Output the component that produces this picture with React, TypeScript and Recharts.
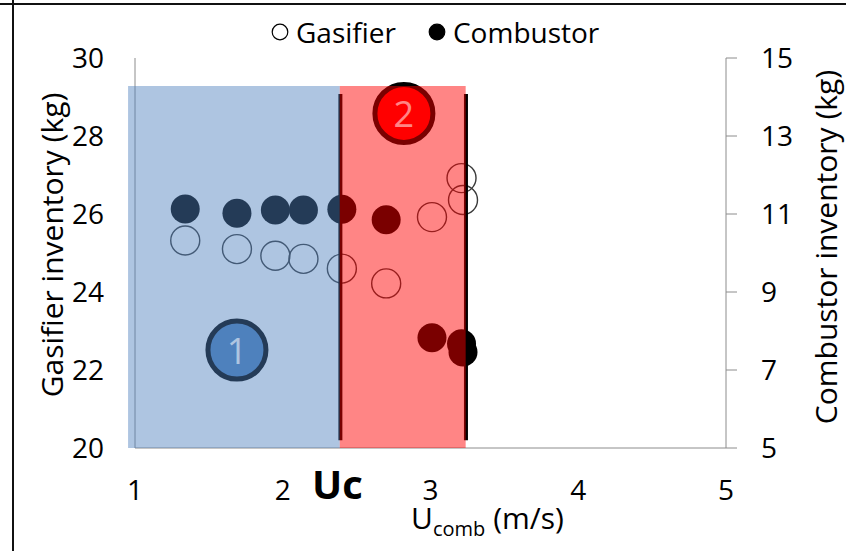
import React from 'react';
import {
  ComposedChart,
  Scatter,
  XAxis,
  YAxis,
  ReferenceArea,
  ReferenceLine,
  Legend,
} from 'recharts';

// Combustor gas velocity (m/s) for each run
const uComb = [1.34, 1.69, 1.95, 2.14, 2.4, 2.7, 3.01, 3.21, 3.22];
// Bed inventories (kg) measured for each run
const gasifierKg = [25.32, 25.1, 24.93, 24.85, 24.6, 24.22, 25.92, 26.92, 26.36];
const combustorKg = [11.13, 11.02, 11.1, 11.1, 11.12, 10.85, 7.83, 7.67, 7.46];

const xTicks = [1, 2, 3, 4, 5];
const gasifierTicks = [20, 22, 24, 26, 28, 30];
const combustorTicks = [5, 7, 9, 11, 13, 15];

// Operating regimes: band edges along U_comb and the band height (gasifier scale)
const regimeEdges = [0.953, 2.386, 3.238];
const regimeTop = 29.28;
const uc = 2.39;
const regimeEnd = 3.24;
const boundarySpan = [20.2, 29.08];

const regimeBadges = [
  { x: 1.69, y: 22.51, label: '1', fill: '#4F81BD' },
  { x: 2.82, y: 28.58, label: '2', fill: '#FF0000' },
];

const gasifierData = uComb.map((x, i) => ({ x, y: gasifierKg[i] }));
const combustorData = uComb.map((x, i) => ({ x, y: combustorKg[i] }));

const FONT = "'Open Sans', sans-serif";
const AXIS_GREY = '#8c8c8c';
const TICK_STYLE = { fill: '#000', fontSize: 28, fontFamily: FONT };

const HollowDot = (p: any) => (
  <circle cx={p.cx} cy={p.cy} r={14.5} fill="none" stroke="#3a3a3a" strokeWidth={1.4} />
);

const SolidDot = (p: any) => <circle cx={p.cx} cy={p.cy} r={14.5} fill="#000" />;

const Badge = (p: any) => (
  <g>
    <circle cx={p.cx} cy={p.cy} r={29} fill={p.payload.fill} stroke="#000" strokeWidth={5} />
    <text
      x={p.cx}
      y={p.cy}
      textAnchor="middle"
      dominantBaseline="central"
      fill="#fff"
      fontSize={36}
      fontFamily={FONT}
    >
      {p.payload.label}
    </text>
  </g>
);

// legend entries in display order, with their marker fill
const legendOrder = ['Gasifier', 'Combustor'];
const legendFill: Record<string, string> = { Gasifier: 'none', Combustor: '#000' };

const LegendContent = (props: any) => {
  const entries = props.payload || [];
  const items = legendOrder
    .map((name) => entries.find((e: any) => e.value === name))
    .filter(Boolean);
  return (
    <div
      style={{
        display: 'flex',
        alignItems: 'center',
        fontFamily: FONT,
        fontSize: 28,
        color: '#000',
        whiteSpace: 'nowrap',
      }}
    >
      {items.map((e: any, i: number) => (
        <div
          key={e.value}
          style={{ display: 'flex', alignItems: 'center', marginLeft: i === 0 ? 0 : 32 }}
        >
          <svg width={18} height={18} style={{ display: 'block' }}>
            <circle
              cx={9}
              cy={9}
              r={7.8}
              fill={legendFill[e.value]}
              stroke="#000"
              strokeWidth={1.2}
            />
          </svg>
          <span style={{ marginLeft: 7 }}>{e.value}</span>
        </div>
      ))}
    </div>
  );
};

const LeftTitle = (props: any) => {
  const vb = props.viewBox;
  const cx = vb.x + 16;
  const cy = vb.y + vb.height / 2 - 8;
  return (
    <text
      x={cx}
      y={cy}
      transform={`rotate(-90, ${cx}, ${cy})`}
      textAnchor="middle"
      dominantBaseline="central"
      fontSize={30}
      fontFamily={FONT}
      fill="#000"
    >
      Gasifier inventory (kg)
    </text>
  );
};

const RightTitle = (props: any) => {
  const vb = props.viewBox;
  const cx = vb.x + 99;
  const cy = vb.y + vb.height / 2 - 6;
  return (
    <text
      x={cx}
      y={cy}
      transform={`rotate(-90, ${cx}, ${cy})`}
      textAnchor="middle"
      dominantBaseline="central"
      fontSize={30}
      fontFamily={FONT}
      fill="#000"
    >
      Combustor inventory (kg)
    </text>
  );
};

const BottomTitle = (props: any) => {
  const vb = props.viewBox;
  return (
    <text
      x={vb.x + vb.width / 2 + 57}
      y={vb.y + 81}
      textAnchor="middle"
      fontSize={30}
      fontFamily={FONT}
      fill="#000"
    >
      <tspan>U</tspan>
      <tspan fontSize={20} dy={7}>
        comb
      </tspan>
      <tspan dy={-7}> (m/s)</tspan>
    </text>
  );
};

const UcLabel = (props: any) => {
  const vb = props.viewBox;
  return (
    <text
      x={vb.x - 3}
      y={vb.y + vb.height + 51}
      textAnchor="middle"
      fontSize={40}
      fontWeight="bold"
      fontFamily={FONT}
      fill="#000"
    >
      Uc
    </text>
  );
};

export default function App() {
  return (
    <div style={{ position: 'relative', width: 846, height: 551, background: '#fff' }}>
      <style>{'body{margin:0}'}</style>
      <ComposedChart
        width={846}
        height={551}
        margin={{ top: 58, right: 20, bottom: 43, left: 35 }}
      >
        <XAxis
          dataKey="x"
          type="number"
          domain={[1, 5]}
          ticks={xTicks}
          allowDataOverflow
          height={60}
          stroke={AXIS_GREY}
          tickLine={false}
          tickSize={0}
          tickMargin={32}
          tick={TICK_STYLE}
          label={BottomTitle}
        />
        <YAxis
          yAxisId="left"
          dataKey="y"
          type="number"
          domain={[20, 30]}
          ticks={gasifierTicks}
          allowDataOverflow
          width={100}
          stroke={AXIS_GREY}
          tickLine={false}
          tickSize={0}
          tickMargin={31}
          tick={TICK_STYLE}
          label={LeftTitle}
        />
        <YAxis
          yAxisId="right"
          orientation="right"
          dataKey="y"
          type="number"
          domain={[5, 15]}
          ticks={combustorTicks}
          allowDataOverflow
          width={100}
          stroke={AXIS_GREY}
          tickSize={11}
          tickMargin={24}
          tick={TICK_STYLE}
          label={RightTitle}
        />
        <Legend
          layout="horizontal"
          verticalAlign="middle"
          align="center"
          wrapperStyle={{ top: 13, left: 271, width: 'auto' }}
          content={LegendContent}
        />

        <Scatter
          yAxisId="left"
          data={regimeBadges}
          dataKey="y"
          legendType="none"
          shape={Badge}
          isAnimationActive={false}
        />
        <Scatter
          name="Gasifier"
          yAxisId="left"
          data={gasifierData}
          dataKey="y"
          shape={HollowDot}
          isAnimationActive={false}
        />
        <Scatter
          name="Combustor"
          yAxisId="right"
          data={combustorData}
          dataKey="y"
          shape={SolidDot}
          isAnimationActive={false}
        />

        <ReferenceLine
          yAxisId="left"
          segment={[
            { x: uc, y: boundarySpan[0] },
            { x: uc, y: boundarySpan[1] },
          ]}
          stroke="#000"
          strokeWidth={4}
          zIndex={650}
        />
        <ReferenceLine
          yAxisId="left"
          segment={[
            { x: regimeEnd, y: boundarySpan[0] },
            { x: regimeEnd, y: boundarySpan[1] },
          ]}
          stroke="#000"
          strokeWidth={4}
          zIndex={650}
        />

        <ReferenceArea
          yAxisId="left"
          x1={regimeEdges[0]}
          x2={regimeEdges[1]}
          y1={20}
          y2={regimeTop}
          fill="#4F81BD"
          fillOpacity={0.46}
          stroke="none"
          ifOverflow="visible"
          zIndex={700}
        />
        <ReferenceArea
          yAxisId="left"
          x1={regimeEdges[1]}
          x2={regimeEdges[2]}
          y1={20}
          y2={regimeTop}
          fill="#FF0000"
          fillOpacity={0.48}
          stroke="none"
          ifOverflow="visible"
          zIndex={700}
        />

        <ReferenceLine
          yAxisId="left"
          x={uc}
          stroke="none"
          label={UcLabel}
        />
      </ComposedChart>
      <div style={{ position: 'absolute', left: 0, top: 3, width: 846, height: 2, background: '#111' }} />
      <div style={{ position: 'absolute', left: 12, top: 0, width: 2, height: 551, background: '#111' }} />
    </div>
  );
}
